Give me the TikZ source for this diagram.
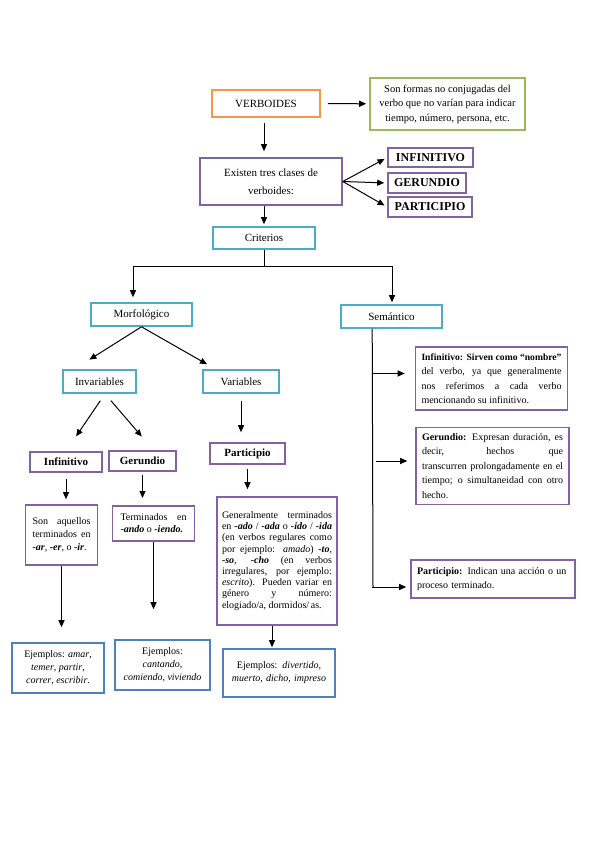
\documentclass[tikz,border=0pt]{standalone}
\usepackage{fontspec}
\setmainfont{Liberation Serif}
\usetikzlibrary{arrows.meta}
\definecolor{verbor}{RGB}{247,150,70}
\definecolor{verbgreen}{RGB}{155,187,89}
\definecolor{verbpurple}{RGB}{128,100,162}
\definecolor{verbteal}{RGB}{75,172,198}
\definecolor{verbblue}{RGB}{79,129,189}
\begin{document}
\begin{tikzpicture}[x=1pt,y=-1pt,
	box/.style={draw, line width=1.6pt, inner sep=3pt, align=center},
	arr/.style={-{Triangle[length=7pt,width=6pt]}, line width=1pt},
	title/.style={font=\fontsize{11}{13}\selectfont},
	body/.style={font=\fontsize{10}{13}\selectfont}]

	%Background
	\useasboundingbox[fill=white] (0,0) rectangle (599,848);

	%Top
	\node[box, draw=verbor, title, minimum width=108pt, minimum height=27pt] (verb) at (266,103.5) {VERBOIDES};
	\node[box, draw=verbgreen, font=\fontsize{10.5}{14.5}\selectfont, minimum width=155pt, minimum height=52pt] (forms) at (447.5,104) {Son formas no conjugadas del\\verbo que no varían para indicar\\tiempo, número, persona, etc.};
	\node[box, draw=verbpurple, font=\fontsize{11}{18}\selectfont, minimum width=142pt, minimum height=47pt] (exist) at (271,181.5) {Existen tres clases de\\verboides:};

	%Clases
	\node[box, draw=verbpurple, font=\fontsize{12}{14}\selectfont\bfseries, minimum width=85pt, minimum height=19pt] (inf) at (430.5,157.5) {INFINITIVO};
	\node[box, draw=verbpurple, font=\fontsize{12}{14}\selectfont\bfseries, minimum width=78pt, minimum height=20pt] (ger) at (427,183) {GERUNDIO};
	\node[box, draw=verbpurple, font=\fontsize{12}{14}\selectfont\bfseries, minimum width=84pt, minimum height=20pt] (par) at (430,207) {PARTICIPIO};

	%Criterios
	\node[box, draw=verbteal, title, minimum width=102pt, minimum height=22pt] (crit) at (264,238) {Criterios};
	\node[box, draw=verbteal, title, minimum width=101pt, minimum height=23pt] (morf) at (141.5,314.5) {Morfológico};
	\node[box, draw=verbteal, title, minimum width=101pt, minimum height=23pt] (sem) at (391.5,316.5) {Semántico};
	\node[box, draw=verbteal, title, minimum width=73pt, minimum height=23pt] (inv) at (99.5,381.5) {Invariables};
	\node[box, draw=verbteal, title, minimum width=76pt, minimum height=23pt] (var) at (241,381.5) {Variables};

	%Morfologico
	\node[box, draw=verbpurple, font=\fontsize{11}{13}\selectfont\bfseries, minimum width=72pt, minimum height=20pt] (minf) at (66,462) {Infinitivo};
	\node[box, draw=verbpurple, font=\fontsize{11}{13}\selectfont\bfseries, minimum width=67pt, minimum height=20pt] (mger) at (142.5,461) {Gerundio};
	\node[box, draw=verbpurple, font=\fontsize{11}{13}\selectfont\bfseries, minimum width=75pt, minimum height=21pt] (mpar) at (247.5,453.5) {Participio};

	\node[box, draw=verbpurple, body, align=justify, text width=58pt, inner sep=7pt, minimum height=60pt] (son) at (61.5,535) {Son aquellos\linebreak terminados en\linebreak \textbf{\textit{-ar}}, \textbf{\textit{-er}}, o \textbf{\textit{-ir}}.};
	\node[box, draw=verbpurple, font=\fontsize{10}{12}\selectfont, align=justify, text width=66pt, inner sep=8pt, minimum height=35pt, anchor=north] (term) at (153.5,505) {Terminados en\linebreak \textbf{\textit{-ando}} o \textbf{\textit{-iendo.}}};
	\node[box, draw=verbpurple, font=\fontsize{10}{11.2}\selectfont, align=justify, text width=110pt, inner sep=5pt, minimum height=128pt] (gen) at (277,561) {Generalmente terminados\linebreak en \textbf{\textit{-ado}} / \textbf{\textit{-ada}} o \textbf{\textit{-ido}} / \textbf{\textit{-ida}}\linebreak (en verbos regulares como\linebreak por ejemplo: \textit{amado}) \textbf{\textit{-to}},\linebreak \textbf{\textit{-so}}, \textbf{\textit{-cho}} (en verbos\linebreak irregulares, por ejemplo:\linebreak \textit{escrito}). Pueden variar en\linebreak género y número:\linebreak elogiado/a, dormidos/\,as.\par\vspace*{15pt}};

	%Ejemplos
	\node[box, draw=verbblue, body, minimum width=92pt, minimum height=50pt] (ej1) at (58,668) {Ejemplos: \textit{amar},\\\textit{temer}, \textit{partir},\\\textit{correr}, \textit{escribir}.};
	\node[box, draw=verbblue, body, minimum width=95pt, minimum height=50pt] (ej2) at (162.5,665) {Ejemplos:\\\textit{cantando},\\\textit{comiendo, viviendo}};
	\node[box, draw=verbblue, body, text width=104pt, inner sep=4pt, minimum height=48pt] (ej3) at (279,673) {Ejemplos: \textit{divertido,}\\\textit{muerto, dicho, impreso}\par\vspace*{9pt}};

	%Semantico
	\node[box, draw=verbpurple, font=\fontsize{10}{14.5}\selectfont, align=justify, text width=140pt, inner sep=6pt, minimum height=63pt] (infsem) at (491.5,378.5) {{\fontsize{9.6}{14.5}\selectfont\textbf{Infinitivo: Sirven como “nombre”}}\linebreak del verbo, ya que generalmente\linebreak nos referimos a cada verbo\linebreak mencionando su infinitivo.};
	\node[box, draw=verbpurple, font=\fontsize{10}{14.5}\selectfont, align=justify, text width=141pt, inner sep=6pt, minimum height=74pt] (gersem) at (492.5,466) {\textbf{Gerundio:} Expresan duración, es\linebreak decir, hechos que\linebreak transcurren prolongadamente en el\linebreak tiempo; o simultaneidad con otro\linebreak hecho.};
	\node[box, draw=verbpurple, font=\fontsize{10}{14.5}\selectfont, align=left, text width=152pt, inner sep=6pt, minimum height=38pt] (parsem) at (493,579) {\textbf{Participio:} Indican una acción o un\\proceso terminado.};

	%Arrows
	\draw[arr, shorten <=7pt, shorten >=3pt] (verb) -- (forms);
	\draw[arr, shorten <=5pt, shorten >=6pt] (verb.south -| crit) -- (exist.north -| crit);
	\foreach \t in {inf,ger,par}
		\draw[arr, shorten >=3pt] (exist.east) -- (\t.west);
	\draw[arr, shorten >=2pt] (exist.south -| crit) -- (crit.north);

	%Fork
	\coordinate (forkL) at (133,266);
	\coordinate (forkR) at (392,266);
	\draw[line width=1pt] (crit.south) -- (crit.south |- forkL);
	\draw[line width=1pt] (forkL) -- (forkR);
	\draw[arr, shorten >=5pt] (forkL) -- (forkL |- morf.north);
	\draw[arr, shorten >=2pt] (forkR) -- (forkR |- sem.north);

	\draw[arr, shorten >=18pt] (morf.south) -- ([xshift=12pt]inv.north west);
	\draw[arr, shorten >=10pt] (morf.south) -- ([xshift=13.5pt]var.north west);
	\draw[arr, shorten <=8.4pt, shorten >=18pt] ([xshift=5.5pt]inv.south) -- (minf.north);
	\draw[arr, shorten <=9pt, shorten >=18pt] ([xshift=5.5pt]inv.south) -- ([xshift=11pt]mger.north);
	\draw[arr, shorten <=7pt, shorten >=10pt] (var.south) -- (var.south |- mpar.north);

	\draw[arr, shorten <=6pt, shorten >=5pt] (minf.south) -- (minf.south |- son.north);
	\draw[arr, shorten <=3pt, shorten >=7pt] (mger.south) -- (mger.south |- term.north);
	\draw[arr, shorten <=4pt, shorten >=7pt] (mpar.south) -- (mpar.south |- gen.north);
	\draw[arr, shorten >=15pt] (son.south) -- (son.south |- ej1.north);
	\draw[arr, shorten >=30pt] (term.south) -- (term.south |- ej2.north);
	\draw[arr, shorten >=1pt] ([xshift=-5pt]gen.south) -- ([xshift=-5pt]gen.south |- ej3.north);

	%Spine
	\coordinate (spine) at ([xshift=32pt]sem.south west);
	\coordinate (spineend) at (373,587);
	\draw[line width=1pt] (spine) -- (spineend);
	\coordinate (infrow) at ([yshift=5pt]infsem.west);
	\coordinate (gerrow) at ([yshift=5pt]gersem.west);
	\coordinate (parrow) at ([yshift=-8pt]parsem.west);
	\draw[arr, shorten >=10pt] (infrow -| spine) -- (infrow);
	\draw[arr, shorten <=4pt, shorten >=8pt] (gerrow -| spine) -- (gerrow);
	\draw[arr, shorten >=4pt] (parrow -| spine) -- (parrow);

\end{tikzpicture}
\end{document}
